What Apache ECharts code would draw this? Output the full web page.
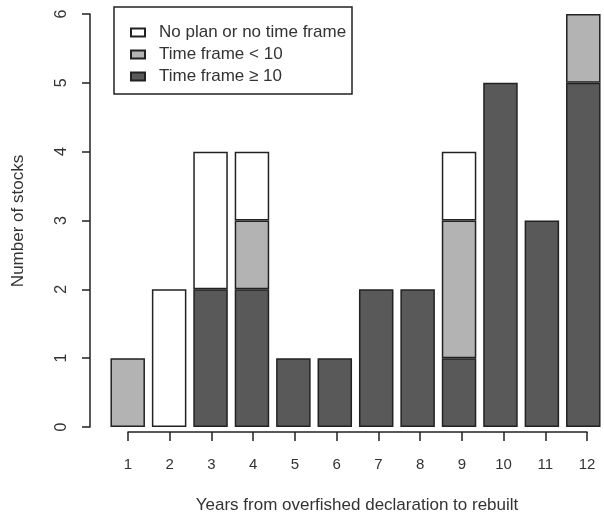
<!DOCTYPE html>
<html>
<head>
<meta charset="utf-8">
<script src="https://cdn.jsdelivr.net/npm/echarts@6/dist/echarts.min.js"></script>
<style>html,body{margin:0;padding:0;background:#fff;}#c{width:604px;height:517px;}</style>
</head>
<body>
<div id="c"></div>
<script>
const categories = ['1','2','3','4','5','6','7','8','9','10','11','12'];
const tickLabelsX = [1,2,3,4,5,6,7,8,9,10,11,12];
const tickLabelsY = [0,1,2,3,4,5,6];
const seriesNames = ['No plan or no time frame', 'Time frame < 10', 'Time frame \u2265 10'];
const noPlan   = [0, 2, 2, 1, 0, 0, 0, 0, 1, 0, 0, 0];
const lessTen  = [1, 0, 0, 1, 0, 0, 0, 0, 2, 0, 0, 1];
const tenPlus  = [0, 0, 2, 2, 1, 1, 2, 2, 1, 5, 3, 5];

const FONT = 'Liberation Sans, Arial, sans-serif';
const chart = echarts.init(document.getElementById('c'), null, {renderer: 'canvas'});

function barSeries(name, data, color) {
  return {
    name: name, type: 'bar', stack: 'total',
    data: data.map(function (v) { return v === 0 ? '-' : v; }),
    xAxisIndex: 0, yAxisIndex: 0, barWidth: 34.5,
    itemStyle: {color: color, borderColor: '#222', borderWidth: 1.5},
    emphasis: {disabled: true}, animation: false
  };
}

chart.setOption({
  animation: false,
  backgroundColor: '#fff',
  grid: [
    {left: 107, top: 14, width: 500.5, height: 413, containLabel: false},
    {left: 128, top: 431, width: 459, height: 1, containLabel: false}
  ],
  legend: {
    orient: 'vertical', left: 125, top: 19,
    data: seriesNames,
    itemWidth: 14, itemHeight: 8, itemGap: 5,
    icon: 'rect',
    textStyle: {fontFamily: FONT, fontSize: 17, color: '#333', lineHeight: 16, padding: [0, 0, 0, 9]},
    selectedMode: false
  },
  graphic: [
    {type: 'rect', shape: {x: 114, y: 7, width: 238, height: 87},
     style: {fill: 'none', stroke: '#222', lineWidth: 1.5}, z: 10, silent: true},
    {type: 'text', x: 18, y: 221, rotation: Math.PI / 2,
     style: {text: 'Number of stocks', fontFamily: FONT, fontSize: 17, fill: '#333', align: 'center', verticalAlign: 'middle'}},
    {type: 'text', x: 357, y: 505,
     style: {text: 'Years from overfished declaration to rebuilt', fontFamily: FONT, fontSize: 17, fill: '#333', align: 'center', verticalAlign: 'middle'}}
  ],
  xAxis: [
    {type: 'category', gridIndex: 0, data: categories, show: false},
    {type: 'value', gridIndex: 1, min: 1, max: 12, interval: 1, position: 'bottom',
     axisLine: {show: true, lineStyle: {color: '#222', width: 1.5}},
     axisTick: {show: true, length: 9, inside: false, lineStyle: {color: '#222', width: 1.5}},
     axisLabel: {show: true, margin: 25, fontFamily: FONT, fontSize: 15, color: '#333',
       formatter: function (v) { return tickLabelsX.indexOf(v) >= 0 ? String(v) : ''; }},
     splitLine: {show: false}}
  ],
  yAxis: [
    {type: 'value', gridIndex: 0, min: 0, max: 6, interval: 1, position: 'left', offset: 17,
     axisLine: {show: true, lineStyle: {color: '#222', width: 1.5}},
     axisTick: {show: true, length: 8, inside: false, lineStyle: {color: '#222', width: 1.5}},
     axisLabel: {show: true, rotate: 90, margin: 20, fontFamily: FONT, fontSize: 16, color: '#333',
       formatter: function (v) { return tickLabelsY.indexOf(v) >= 0 ? String(v) : ''; }},
     splitLine: {show: false}},
    {type: 'value', gridIndex: 1, show: false}
  ],
  series: [
    barSeries(seriesNames[2], tenPlus, '#595959'),
    barSeries(seriesNames[1], lessTen, '#b3b3b3'),
    barSeries(seriesNames[0], noPlan, '#ffffff')
  ]
});
</script>
</body>
</html>
